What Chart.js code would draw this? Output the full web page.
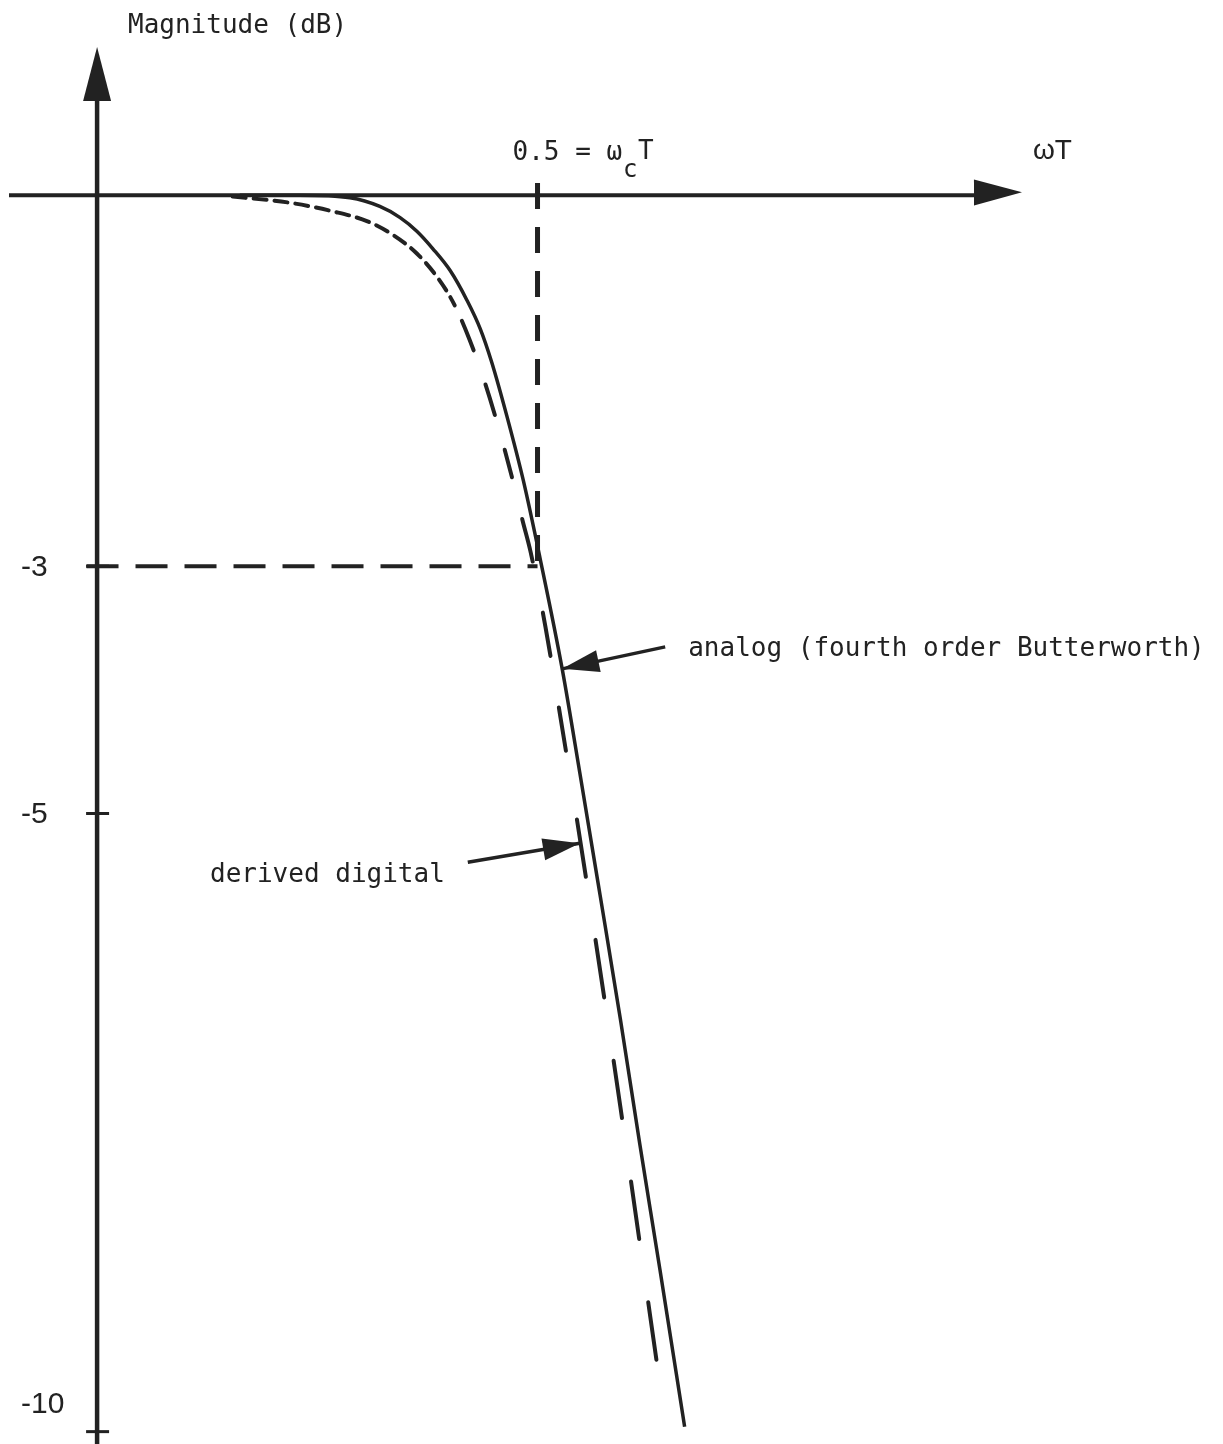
<!DOCTYPE html>
<html>
<head>
<meta charset="utf-8">
<title>Magnitude response</title>
<script src="https://cdn.jsdelivr.net/npm/chart.js@4/dist/chart.umd.min.js"></script>
<style>
  html, body { margin: 0; padding: 0; background: #fff; }
  #wrap { width: 1223px; height: 1444px; position: relative; }
</style>
</head>
<body>
<div id="wrap"><canvas id="chart"></canvas></div>
<script>
// --- DATA ---
// analog fourth order Butterworth, magnitude in dB against wT
const analogWT = [0.162, 0.230, 0.287, 0.321, 0.344, 0.363, 0.381, 0.401, 0.420, 0.435,
  0.448, 0.465, 0.484, 0.503, 0.528, 0.548, 0.571, 0.594, 0.616, 0.639, 0.667];
const analogDb = [0.0, 0.0, -0.02, -0.09, -0.18, -0.29, -0.43, -0.61, -0.85, -1.08,
  -1.35, -1.78, -2.31, -2.94, -3.83, -4.67, -5.66, -6.66, -7.67, -8.69, -9.96];

// derived digital filter
const digitalWT = [0.154, 0.219, 0.268, 0.307, 0.336, 0.363, 0.389, 0.406, 0.423, 0.440,
  0.457, 0.471, 0.483, 0.492, 0.509, 0.526, 0.534, 0.543, 0.560, 0.577, 0.594, 0.611,
  0.628, 0.637];
const digitalDb = [-0.01, -0.06, -0.13, -0.21, -0.32, -0.47, -0.69, -0.89, -1.17, -1.51,
  -1.91, -2.28, -2.63, -2.88, -3.49, -4.22, -4.57, -4.97, -5.75, -6.55, -7.37, -8.22,
  -9.07, -9.52];

const cutoffWT = 0.5;       // wcT
const halfPowerDb = -3;
const yTickValues = [-3, -5, -10];
const yTickLabels = ["-3", "-5", "-10"];

const INK = "#222";
const MONO = "'DejaVu Sans Mono', 'Liberation Mono', monospace";
const SANS = "'Liberation Sans', Arial, sans-serif";

const toPoints = (xs, ys) => xs.map((x, i) => ({ x, y: ys[i] }));

// --- AXES, LABELS AND POINTERS ---
function arrowHead(ctx, tipX, tipY, fromX, fromY, len, half) {
  const a = Math.atan2(tipY - fromY, tipX - fromX);
  const bx = tipX - len * Math.cos(a), by = tipY - len * Math.sin(a);
  ctx.beginPath();
  ctx.moveTo(tipX, tipY);
  ctx.lineTo(bx + half * Math.sin(a), by - half * Math.cos(a));
  ctx.lineTo(bx - half * Math.sin(a), by + half * Math.cos(a));
  ctx.closePath();
  ctx.fill();
}

function pointer(ctx, tipX, tipY, tailX, tailY) {
  ctx.lineWidth = 3.5;
  ctx.beginPath();
  ctx.moveTo(tailX, tailY);
  ctx.lineTo(tipX, tipY);
  ctx.stroke();
  arrowHead(ctx, tipX, tipY, tailX, tailY, 37, 11);
}

const sketchPlugin = {
  id: "sketch",
  afterDatasetsDraw(chart) {
    const { ctx, chartArea: area, scales: { x, y } } = chart;
    const x0 = x.getPixelForValue(0);
    const y0 = y.getPixelForValue(0);

    ctx.save();
    ctx.strokeStyle = INK;
    ctx.fillStyle = INK;
    ctx.lineCap = "butt";

    // horizontal axis (wT) with arrow at the right end
    ctx.lineWidth = 4;
    ctx.beginPath();
    ctx.moveTo(area.left, y0);
    ctx.lineTo(area.right - 30, y0);
    ctx.stroke();
    arrowHead(ctx, area.right, y0 - 3, area.left, y0, 48, 13);

    // vertical axis (magnitude) with arrow at the top
    ctx.lineWidth = 4.5;
    ctx.beginPath();
    ctx.moveTo(x0, area.bottom);
    ctx.lineTo(x0, area.top + 30);
    ctx.stroke();
    arrowHead(ctx, x0, area.top, x0, area.bottom, 54, 14);

    // dB ticks and their labels
    ctx.font = "30px " + SANS;
    ctx.textAlign = "left";
    ctx.textBaseline = "middle";
    yTickValues.forEach((v, i) => {
      const py = y.getPixelForValue(v);
      ctx.lineWidth = 3;
      ctx.beginPath();
      ctx.moveTo(x0 - 11, py);
      ctx.lineTo(x0 + 12, py);
      ctx.stroke();
      ctx.fillText(yTickLabels[i], 21, Math.min(py, area.bottom - 40) + 1);
    });

    // axis titles
    ctx.font = "26px " + MONO;
    ctx.fillText("Magnitude (dB)", 128, 26);
    ctx.font = "28px " + SANS;
    ctx.fillText("\u03c9T", x.getPixelForValue(1.05) + 11, 151);

    // cutoff label above the dashed guide
    const xc = x.getPixelForValue(cutoffWT);
    ctx.font = "26px " + MONO;
    const head = cutoffWT + " = \u03c9";
    const hx = xc - 25;
    ctx.fillText(head, hx, 153);
    const hw = ctx.measureText(head).width;
    ctx.font = "24px " + MONO;
    ctx.fillText("c", hx + hw + 1, 171);
    ctx.font = "26px " + MONO;
    ctx.fillText("T", hx + hw + 16, 152);

    // pointer to the analog curve
    const aTipX = x.getPixelForValue(analogWT[14]);
    const aTipY = y.getPixelForValue(analogDb[14]);
    pointer(ctx, aTipX, aTipY, aTipX + 103, aTipY - 22);
    ctx.fillText("analog (fourth order Butterworth)", aTipX + 126, aTipY - 20);

    // pointer to the digital curve
    const dTipX = x.getPixelForValue(0.548);
    const dTipY = y.getPixelForValue(-5.24);
    pointer(ctx, dTipX, dTipY, dTipX - 112, dTipY + 19);
    ctx.textAlign = "right";
    ctx.fillText("derived digital", dTipX - 135, dTipY + 32);

    ctx.restore();
  }
};

// dash length grows as the digital curve falls away;
// each run of dashes gets its own pattern and phase
const dashRuns = [
  { above: -0.95, dash: [13, 8], offset: 0 },
  { above: -2.3, dash: [32, 36], offset: 51 },
  { above: -4.6, dash: [44, 52], offset: 53 },
  { above: -Infinity, dash: [58, 64], offset: 62 },
];
const runFor = (seg) => dashRuns.find((r) => seg.p1.parsed.y > r.above);

new Chart(document.getElementById("chart"), {
  type: "line",
  data: {
    datasets: [
      {
        label: "analog",
        data: toPoints(analogWT, analogDb),
        borderColor: INK,
        borderWidth: 3.5,
        cubicInterpolationMode: "monotone",
        pointRadius: 0,
      },
      {
        label: "derived digital",
        data: toPoints(digitalWT, digitalDb),
        borderColor: INK,
        borderWidth: 4,
        borderCapStyle: "round",
        cubicInterpolationMode: "monotone",
        pointRadius: 0,
        segment: {
          borderDash: (seg) => runFor(seg).dash,
          borderDashOffset: (seg) => runFor(seg).offset,
        },
      },
      {
        label: "cutoff",
        data: [{ x: cutoffWT, y: 0.1 }, { x: cutoffWT, y: halfPowerDb }],
        borderColor: INK,
        borderWidth: 5,
        borderDash: [26, 18],
        pointRadius: 0,
      },
      {
        label: "half power",
        data: [{ x: -0.012, y: halfPowerDb }, { x: cutoffWT, y: halfPowerDb }],
        borderColor: INK,
        borderWidth: 4,
        borderDash: [32, 17],
        pointRadius: 0,
      },
    ],
  },
  options: {
    responsive: true,
    maintainAspectRatio: false,
    animation: false,
    layout: { padding: { left: 9, right: 201, top: 47, bottom: 0 } },
    plugins: { legend: { display: false }, tooltip: { enabled: false } },
    scales: {
      x: { type: "linear", min: -0.1, max: 1.05, display: false },
      y: { type: "linear", min: -10.1, max: 1.2, display: false },
    },
  },
  plugins: [sketchPlugin],
});
</script>
</body>
</html>
